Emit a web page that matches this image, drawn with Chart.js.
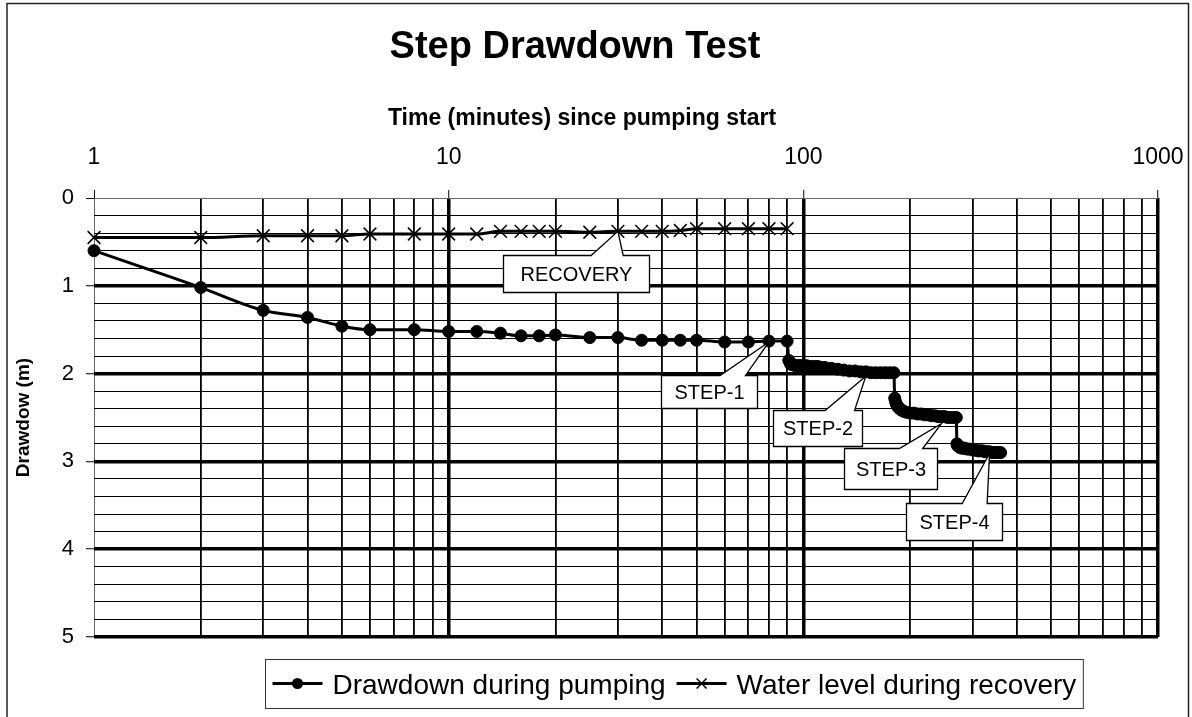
<!DOCTYPE html>
<html>
<head>
<meta charset="utf-8">
<title>Step Drawdown Test</title>
<script src="https://cdn.jsdelivr.net/npm/chart.js@4.4.1/dist/chart.umd.min.js"></script>
<style>
  html, body { margin: 0; padding: 0; background: #fff; }
  #wrap { width: 1192px; height: 717px; }
</style>
</head>
<body>
<div id="wrap"><canvas id="myChart" width="1192" height="717"></canvas></div>
<script>
// pumping phase (4 steps), time in minutes, drawdown in metres
const pumpTime = [
    1, 2, 3, 4, 5, 6, 8, 10, 12, 14, 16, 18, 20, 25, 30, 35, 40, 45, 50, 60, 70, 80, 90,
    91, 92, 93, 94, 95, 96, 97, 98, 99, 100, 102, 104, 106, 108, 110, 112, 115, 120, 125, 130, 135, 140, 145, 150, 155, 160, 165, 170, 175, 180,
    181, 182, 183, 184, 185, 186, 188, 190, 192, 195, 200, 205, 210, 215, 220, 225, 230, 235, 240, 245, 250, 255, 260, 265, 270,
    271, 272, 274, 276, 278, 280, 285, 290, 295, 300, 305, 310, 315, 320, 325, 330, 335, 340, 345, 350, 355, 360
];
const pumpDrawdown = [
    0.60, 1.02, 1.28, 1.36, 1.46, 1.50, 1.50, 1.52, 1.52, 1.54, 1.57, 1.57, 1.56, 1.59, 1.59, 1.62, 1.62, 1.62, 1.62, 1.64, 1.64, 1.63, 1.63,
    1.85, 1.89, 1.90, 1.90, 1.91, 1.91, 1.91, 1.91, 1.91, 1.91, 1.91, 1.92, 1.92, 1.92, 1.92, 1.93, 1.93, 1.94, 1.95, 1.96, 1.97, 1.97, 1.98, 1.98, 1.99, 1.99, 1.99, 1.99, 1.99, 1.99,
    2.28, 2.32, 2.35, 2.37, 2.38, 2.39, 2.41, 2.42, 2.43, 2.44, 2.45, 2.45, 2.46, 2.46, 2.47, 2.47, 2.48, 2.48, 2.49, 2.49, 2.49, 2.50, 2.50, 2.50, 2.50,
    2.80, 2.82, 2.83, 2.84, 2.84, 2.85, 2.85, 2.86, 2.86, 2.87, 2.87, 2.88, 2.88, 2.88, 2.89, 2.89, 2.89, 2.90, 2.90, 2.90, 2.90, 2.90
];

// recovery phase
const recoveryTime = [1, 2, 3, 4, 5, 6, 8, 10, 12, 14, 16, 18, 20, 25, 30, 35, 40, 45, 50, 60, 70, 80, 90];
const recoveryLevel = [0.45, 0.45, 0.43, 0.43, 0.43, 0.41, 0.41, 0.41, 0.41, 0.38, 0.38, 0.38, 0.38, 0.39, 0.38, 0.38, 0.38, 0.37, 0.35, 0.35, 0.35, 0.35, 0.35];

const seriesNames = ['Drawdown during pumping', 'Water level during recovery'];
const xTickLabels = [1, 10, 100, 1000];
const yTickLabels = [0, 1, 2, 3, 4, 5];

// callout labels and the point (time, drawdown) each one points at
const calloutText = ['RECOVERY', 'STEP-1', 'STEP-2', 'STEP-3', 'STEP-4'];
const calloutTipTime = [30, 80, 150, 245, 335];
const calloutTipDrawdown = [0.38, 1.64, 2.03, 2.57, 2.91];

// where the boxes sit (box centre in data units, size in px, wedge base as share of box width)
const calloutBoxes = [
    { t: 22.8, d: 0.855, w: 146, h: 37, wedge: [0.60, 0.82] },
    { t: 54.1, d: 2.207, w: 96, h: 33, wedge: [0.61, 0.875] },
    { t: 109.4, d: 2.621, w: 89, h: 36, wedge: [0.58, 0.91] },
    { t: 175.7, d: 3.086, w: 93, h: 41, wedge: [0.59, 0.84] },
    { t: 265.9, d: 3.687, w: 96, h: 37, wedge: [0.58, 0.84] }
];

const FONT = '"Liberation Sans", Arial, Helvetica, sans-serif';
Chart.defaults.font.family = FONT;
Chart.defaults.color = '#000';

const isDecade = v => xTickLabels.some(d => Math.abs(d - v) < 1e-6);
const isWhole = v => yTickLabels.some(d => Math.abs(d - v) < 1e-6);

function drawMarker(ctx, style, x, y, r) {
    ctx.beginPath();
    if (style === 'circle') {
        ctx.arc(x, y, r, 0, Math.PI * 2);
        ctx.fill();
    } else {
        const k = r * Math.SQRT1_2;
        ctx.moveTo(x - k, y - k); ctx.lineTo(x + k, y + k);
        ctx.moveTo(x + k, y - k); ctx.lineTo(x - k, y + k);
        ctx.stroke();
    }
}

const overlay = {
    id: 'overlay',
    afterDraw(chart) {
        const ctx = chart.ctx;
        const xs = chart.scales.x;
        const ys = chart.scales.y;
        ctx.save();

        // outer frame
        ctx.strokeStyle = '#222';
        ctx.lineWidth = 1.5;
        ctx.strokeRect(7, 3.5, 1181.5, 730);

        // titles
        ctx.fillStyle = '#000';
        ctx.textAlign = 'center';
        ctx.textBaseline = 'alphabetic';
        ctx.font = 'bold 38px ' + FONT;
        ctx.fillText('Step Drawdown Test', 575, 58);
        ctx.font = 'bold 23px ' + FONT;
        ctx.fillText('Time (minutes) since pumping start', 582, 125);

        ctx.save();
        ctx.translate(24, (chart.chartArea.top + chart.chartArea.bottom) / 2);
        ctx.rotate(-Math.PI / 2);
        ctx.textBaseline = 'middle';
        ctx.font = 'bold 19px ' + FONT;
        ctx.fillText('Drawdow (m)', 0, 0);
        ctx.restore();

        // callouts
        ctx.font = '20px ' + FONT;
        ctx.textBaseline = 'middle';
        calloutText.forEach((txt, i) => {
            const b = calloutBoxes[i];
            const cx = xs.getPixelForValue(b.t);
            const cy = ys.getPixelForValue(b.d);
            const left = Math.round(cx - b.w / 2) + 0.5;
            const top = Math.round(cy - b.h / 2) + 0.5;
            const right = left + b.w;
            const bottom = top + b.h;
            const tipX = xs.getPixelForValue(calloutTipTime[i]);
            const tipY = ys.getPixelForValue(calloutTipDrawdown[i]);
            const w1 = left + b.w * b.wedge[0];
            const w2 = left + b.w * b.wedge[1];
            ctx.beginPath();
            ctx.moveTo(left, top);
            ctx.lineTo(w1, top);
            ctx.lineTo(tipX, tipY);
            ctx.lineTo(w2, top);
            ctx.lineTo(right, top);
            ctx.lineTo(right, bottom);
            ctx.lineTo(left, bottom);
            ctx.closePath();
            ctx.fillStyle = '#fff';
            ctx.fill();
            ctx.strokeStyle = '#000';
            ctx.lineWidth = 1.3;
            ctx.stroke();
            ctx.fillStyle = '#000';
            ctx.fillText(txt, (left + right) / 2, (top + bottom) / 2 + 1);
        });

        // legend
        ctx.font = '28px ' + FONT;
        ctx.textAlign = 'left';
        ctx.textBaseline = 'alphabetic';
        const styles = ['circle', 'cross'];
        const lineLen = 50, padL = 7, gapText = 10, gapItem = 11;
        const widths = seriesNames.map(s => ctx.measureText(s).width);
        const boxW = padL * 2 + (lineLen + gapText) * 2 + widths[0] + gapItem + widths[1];
        const boxL = Math.round(674 - boxW / 2) + 0.5;
        const boxT = 659.5, boxH = 49;
        ctx.fillStyle = '#fff';
        ctx.fillRect(boxL, boxT, boxW, boxH);
        ctx.strokeStyle = '#333';
        ctx.lineWidth = 1;
        ctx.strokeRect(boxL, boxT, boxW, boxH);
        let px = boxL + padL;
        const midY = boxT + 24;
        seriesNames.forEach((name, i) => {
            ctx.strokeStyle = '#000';
            ctx.fillStyle = '#000';
            ctx.lineWidth = 3;
            ctx.beginPath();
            ctx.moveTo(px, midY);
            ctx.lineTo(px + lineLen, midY);
            ctx.stroke();
            ctx.lineWidth = 1.5;
            drawMarker(ctx, styles[i], px + lineLen / 2, midY, styles[i] === 'circle' ? 5.5 : 7);
            px += lineLen + gapText;
            ctx.fillText(name, px, boxT + 34);
            px += widths[i] + gapItem;
        });

        ctx.restore();
    }
};

const ctx = document.getElementById('myChart').getContext('2d');

new Chart(ctx, {
    type: 'line',
    data: {
        datasets: [
            {
                label: seriesNames[0],
                data: pumpTime.map((t, i) => ({ x: t, y: pumpDrawdown[i] })),
                borderColor: '#000',
                backgroundColor: '#000',
                borderWidth: 3,
                pointStyle: 'circle',
                pointRadius: 6,
                pointBorderWidth: 1,
                pointBackgroundColor: '#000',
                pointBorderColor: '#000',
                cubicInterpolationMode: 'monotone',
                clip: false
            },
            {
                label: seriesNames[1],
                data: recoveryTime.map((t, i) => ({ x: t, y: recoveryLevel[i] })),
                borderColor: '#000',
                backgroundColor: '#000',
                borderWidth: 3,
                pointStyle: 'crossRot',
                pointRadius: 9,
                pointBorderWidth: 1.5,
                pointBorderColor: '#000',
                cubicInterpolationMode: 'monotone',
                clip: false
            }
        ]
    },
    options: {
        responsive: false,
        animation: false,
        devicePixelRatio: 1,
        layout: { padding: { left: 0, top: 0, right: 34, bottom: 80 } },
        plugins: {
            legend: { display: false },
            tooltip: { enabled: false },
            title: { display: false }
        },
        scales: {
            x: {
                type: 'logarithmic',
                position: 'top',
                min: 1,
                max: 1000,
                afterFit: s => {
                    s.height = 198;
                    s.paddingLeft = 0;
                    s.paddingRight = 0;
                },
                afterBuildTicks: s => {
                    s.ticks = s.ticks.filter(t => {
                        const p = Math.pow(10, Math.floor(Math.log10(t.value) + 1e-9));
                        const m = t.value / p;
                        return Math.abs(m - Math.round(m)) < 1e-6;
                    });
                },
                border: { display: false },
                grid: {
                    color: c => (c.tick && Math.abs(c.tick.value - 1) < 1e-6) ? '#666' : '#000',
                    lineWidth: c => {
                        const v = c.tick ? c.tick.value : 0;
                        if (Math.abs(v - 1) < 1e-6) return 1;
                        return isDecade(v) ? 3.5 : 1.8;
                    },
                    tickLength: 8,
                    tickWidth: 1,
                    tickColor: c => (c.tick && isDecade(c.tick.value)) ? '#000' : 'rgba(0,0,0,0)'
                },
                ticks: {
                    autoSkip: false,
                    maxRotation: 0,
                    padding: 19,
                    font: { size: 23 },
                    callback: v => isDecade(v) ? String(Math.round(v)) : ''
                }
            },
            y: {
                type: 'linear',
                reverse: true,
                min: 0,
                max: 5,
                afterFit: s => { s.width = 94; },
                border: { display: false },
                grid: {
                    color: c => (c.tick && Math.abs(c.tick.value) < 1e-6) ? '#666' : '#000',
                    lineWidth: c => {
                        const v = c.tick ? c.tick.value : 0;
                        if (Math.abs(v) < 1e-6) return 1;
                        return isWhole(v) ? 3.5 : 1;
                    },
                    tickLength: 8,
                    tickWidth: 1,
                    tickColor: c => (c.tick && isWhole(c.tick.value)) ? '#000' : 'rgba(0,0,0,0)'
                },
                ticks: {
                    stepSize: 0.2,
                    autoSkip: false,
                    maxTicksLimit: 30,
                    padding: 12,
                    font: { size: 22 },
                    callback: v => isWhole(v) ? String(Math.round(v)) : ''
                }
            }
        }
    },
    plugins: [overlay]
});
</script>
</body>
</html>
